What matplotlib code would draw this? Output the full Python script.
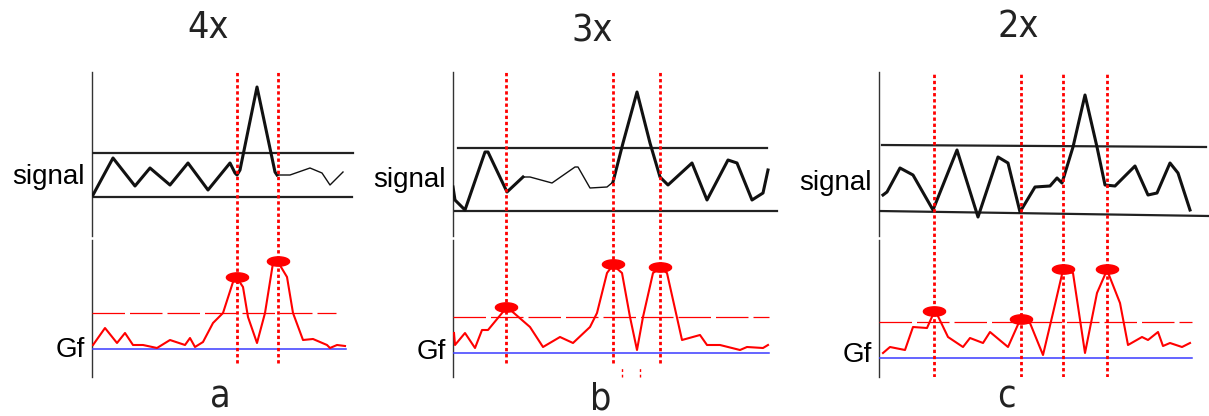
import matplotlib
matplotlib.use("Agg")
import matplotlib.pyplot as plt
import numpy as np

# ---- data (local panel units: x from panel axis, y up from panel bottom) ----
TITLES = ["4x", "3x", "2x"]
LETTERS = ["a", "b", "c"]

sig_a_x = [1, 21, 43, 58, 78, 96, 116, 138, 143, 145, 148, 165, 183, 185, 198, 218, 230, 238, 251]
sig_a_y = [182, 219, 191, 209, 192, 214, 187, 214, 204, 202, 207, 290, 205, 202, 202, 209, 204, 192, 205]
gf_a_x = [1, 13, 25, 33, 41, 51, 65, 78, 93, 98, 103, 111, 121, 131, 141, 145, 151, 156, 165, 173,
          181, 186, 195, 201, 211, 221, 235, 238, 245, 253]
gf_a_y = [32, 49, 34, 44, 32, 32, 29, 37, 32, 39, 30, 35, 54, 64, 95, 99, 90, 60, 34, 64,
          114, 115, 100, 64, 37, 38, 32, 29, 32, 31]
peaks_a = [145, 186]

sig_b_x = [0, 2, 12, 32, 35, 54, 70, 77, 99, 122, 125, 137, 154, 160, 170, 184, 197, 207, 215, 239,
           254, 275, 284, 299, 310, 315]
sig_b_y = [190, 177, 167, 225, 225, 185, 200, 200, 194, 210, 210, 189, 190, 195, 234, 285, 234, 200, 192, 214,
           177, 217, 214, 177, 184, 207]
gf_b_x = [1, 2, 12, 22, 29, 35, 54, 77, 90, 107, 120, 137, 144, 154, 160, 169, 177, 184, 190, 200,
          207, 214, 229, 247, 254, 267, 287, 294, 310, 315]
gf_b_y = [44, 32, 44, 29, 47, 47, 70, 50, 30, 40, 34, 50, 64, 104, 112, 104, 60, 27, 60, 104,
          109, 104, 37, 42, 32, 32, 27, 30, 29, 32]
peaks_b = [53, 160, 207]

sig_c_x = [4, 8, 21, 34, 54, 78, 99, 119, 129, 141, 156, 171, 178, 183, 194, 206, 218, 226, 236, 256,
           269, 278, 291, 299, 311]
sig_c_y = [182, 185, 209, 202, 167, 227, 160, 220, 214, 165, 190, 191, 199, 194, 230, 282, 230, 192, 191, 211,
           182, 184, 214, 204, 167]
gf_c_x = [4, 11, 26, 34, 48, 56, 69, 84, 91, 104, 111, 129, 141, 151, 164, 174, 184, 194, 206, 218,
          228, 241, 249, 263, 269, 279, 284, 291, 303, 311]
gf_c_y = [24, 30, 27, 50, 49, 67, 40, 30, 39, 34, 45, 30, 57, 54, 22, 64, 107, 104, 24, 84,
          107, 74, 32, 40, 37, 45, 31, 34, 30, 34]
peaks_c = [55, 142, 184, 228]

# band lines (start, end), threshold and baseline levels per panel
band_hi = [(224, 224), (229, 229), (232, 230)]
band_lo = [(180, 180), (166, 166), (166, 161)]
thresh = [64, 60, 55]
base = [28, 24, 19]

panels = [
    dict(sx=sig_a_x, sy=sig_a_y, gx=gf_a_x, gy=gf_a_y, pk=peaks_a, thin=(13, 19)),
    dict(sx=sig_b_x, sy=sig_b_y, gx=gf_b_x, gy=gf_b_y, pk=peaks_b, thin=(6, 13)),
    dict(sx=sig_c_x, sy=sig_c_y, gx=gf_c_x, gy=gf_c_y, pk=peaks_c, thin=(0, 0)),
]

# layout (pixels in the 1209x416 canvas)
AX_X = [92, 453, 879]
BAND_X = [(0, 261, 0, 260), (5, 314, 2, 324), (3, 327, 0, 330)]
LINE_END = [(244, 254), (316, 316), (313, 313)]
LBL_Y = [(200, 27), (197, 25), (194, 22)]
TITLE_XY = [(208, 28), (592, 32), (1018, 27)]
LETTER_XY = [(220, 398), (601, 400), (1006, 397)]

W, H = 1209, 416
fig = plt.figure(figsize=(W / 100, H / 100), dpi=100, facecolor="white")

t = np.linspace(0, 2 * np.pi, 40)
ell = list(zip(np.cos(t), 0.42 * np.sin(t)))

RED = "#ff0000"
for i, p in enumerate(panels):
    ax = fig.add_axes([AX_X[i] / W, (H - 377) / H, 340 / W, 305 / H])
    ax.set_xlim(0, 340); ax.set_ylim(0, 305)
    ax.axis("off"); ax.patch.set_alpha(0)
    # broken vertical axis
    ax.plot([0, 0], [0, 137], color="#333333", lw=1.0, clip_on=False)
    ax.plot([0, 0], [141, 305], color="#333333", lw=1.0, clip_on=False)
    # signal band
    bx = BAND_X[i]
    ax.plot([bx[0], bx[1]], band_hi[i], color="#222222", lw=1.6)
    ax.plot([bx[2], bx[3]], band_lo[i], color="#222222", lw=1.6)
    # signal curve (thick with a thinner stretch)
    sx, sy = np.array(p["sx"]), np.array(p["sy"])
    a, b = p["thin"]
    if b > a:
        ax.plot(sx[:a + 1], sy[:a + 1], color="#111111", lw=2.2, solid_joinstyle="round")
        ax.plot(sx[a:b + 1], sy[a:b + 1], color="#111111", lw=1.0)
        ax.plot(sx[b:], sy[b:], color="#111111", lw=2.2, solid_joinstyle="round")
    else:
        ax.plot(sx, sy, color="#111111", lw=2.2, solid_joinstyle="round")
    # Gf threshold (dashed) and baseline (blue)
    ax.plot([0, LINE_END[i][0]], [thresh[i]] * 2, color=RED, lw=0.9, dashes=(26, 4))
    ax.plot([0, LINE_END[i][1]], [base[i]] * 2, color="#3b3bff", lw=1.1)
    ax.plot(p["gx"], p["gy"], color=RED, lw=1.5, solid_joinstyle="round")
    # peak markers
    pk_y = [np.interp(x, p["gx"], p["gy"]) + 1 for x in p["pk"]]
    ax.plot(p["pk"], pk_y, ls="none", marker=ell, ms=16, color=RED, mec=RED)
    # dotted red verticals
    for x in p["pk"]:
        ax.plot([x, x], [14 if i < 2 else 0, 305], color=RED, lw=2.0, ls=(0, (1.2, 1.0)))
    if i == 1:
        for x in [169, 187]:
            ax.plot([x, x], [0, 10], color=RED, lw=1.0, ls=(0, (2, 2)), clip_on=False)
    ax.text(-7, LBL_Y[i][0], "signal", ha="right", va="center", fontsize=20,
            family="Liberation Sans", clip_on=False)
    ax.text(-7, LBL_Y[i][1], "Gf", ha="right", va="center", fontsize=20,
            family="Liberation Sans", clip_on=False)

for (x, y), s in zip(TITLE_XY, TITLES):
    fig.text(x / W, 1 - y / H, s, ha="center", va="center", fontsize=27,
             family="DejaVu Sans", fontstretch="condensed", color="#222222")
for (x, y), s in zip(LETTER_XY, LETTERS):
    fig.text(x / W, 1 - y / H, s, ha="center", va="center", fontsize=27,
             family="DejaVu Sans", fontstretch="condensed", color="#222222")

fig.savefig("out.png", dpi=100, facecolor="white")
